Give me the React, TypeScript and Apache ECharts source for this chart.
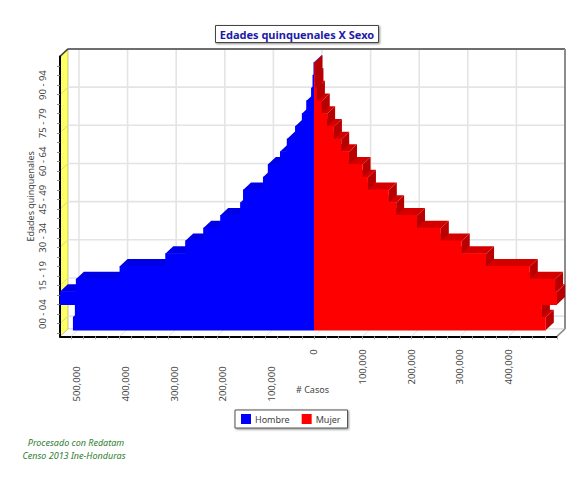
import React, { useEffect, useRef } from "react";
import * as echarts from "echarts";

const ageGroups = [
  "00 - 04", "05 - 09", "10 - 14", "15 - 19", "20 - 24", "25 - 29", "30 - 34",
  "35 - 39", "40 - 44", "45 - 49", "50 - 54", "55 - 59", "60 - 64", "65 - 69",
  "70 - 74", "75 - 79", "80 - 84", "85 - 89", "90 - 94", "95 - 99", "100+",
];
const hombre = [
  496000, 492000, 523000, 490000, 400000, 306000, 265000, 228000, 193000, 152000,
  146000, 105000, 95000, 70000, 56000, 39000, 25000, 16000, 6000, 3000, 1000,
];
const mujer = [
  477000, 469000, 500000, 496000, 444000, 354000, 304000, 261000, 212000, 169000,
  154000, 111000, 100000, 72000, 56000, 41000, 27000, 16000, 6000, 3000, 1000,
];
const caseTicks = [-500000, -400000, -300000, -200000, -100000, 0, 100000, 200000, 300000, 400000];
const negativeTicks = caseTicks.filter((v) => v < 0);
const positiveTicks = caseTicks.filter((v) => v >= 0);
const labelledAges = [0, 3, 6, 9, 12, 15, 18];

const xMin = -522600;
const xMax = 500000;
const yMin = -1;
const yMax = 21;
const depthX = 8;
const depthY = -7.5;
const fontUi = "'Noto Sans', sans-serif";
const textGrey = "#444444";

const minorX: number[] = [];
for (let v = -500000; v <= 500000; v += 25000) minorX.push(v);
const minorY: number[] = [];
for (let v = -0.75; v <= 20.5; v += 0.75) minorY.push(v);

const formatCases = (v: number) => Math.abs(v).toLocaleString("en-US");

// Back wall, floor and yellow side wall of the pseudo-3D box, with their grid lines.
function renderWalls(_p: any, api: any) {
  const bl = api.coord([xMin, yMin]);
  const tr = api.coord([xMax, yMax]);
  const L = bl[0], B = bl[1], R = tr[0], T = tr[1];
  const grid = { stroke: "#e4e4e4", lineWidth: 1.6 };
  const children: any[] = [];
  const poly = (pts: number[][], style: any) =>
    children.push({ type: "polygon", silent: true, shape: { points: pts }, style });
  const line = (a: number[], b: number[], style: any) =>
    children.push({
      type: "line",
      silent: true,
      shape: { x1: a[0], y1: a[1], x2: b[0], y2: b[1] },
      style,
    });

  poly([[L + depthX, T + depthY], [R + depthX, T + depthY], [R + depthX, B + depthY], [L + depthX, B + depthY]], { fill: "#ffffff" });
  poly([[L, T], [L + depthX, T + depthY], [L + depthX, B + depthY], [L, B]], { fill: "#ffff66", stroke: "#8a8a50", lineWidth: 0.5 });

  caseTicks.forEach((v) => {
    const x = api.coord([v, 0])[0];
    line([x + depthX, T + depthY], [x + depthX, B + depthY], grid);
    line([x, B], [x + depthX, B + depthY], { stroke: "#e2e2e2", lineWidth: 1 });
  });
  labelledAges.forEach((i) => {
    const y = api.coord([0, i])[1];
    line([L + depthX, y + depthY], [R + depthX, y + depthY], grid);
    line([L, y], [L + depthX, y + depthY], { stroke: "#d9d98a", lineWidth: 1 });
  });

  line([L + depthX, T + depthY], [R + depthX, T + depthY], { stroke: "#6e6e6e", lineWidth: 2 });
  line([R + depthX, T + depthY], [R + depthX, B + depthY], { stroke: "#8c8c8c", lineWidth: 2 });
  line([L + depthX, B + depthY], [R + depthX, B + depthY], { stroke: "#d0d0d0", lineWidth: 1 });
  line([R, B], [R + depthX, B + depthY], { stroke: "#8c8c8c", lineWidth: 1.5 });
  line([L, T], [L + depthX, T + depthY], { stroke: "#444444", lineWidth: 1.5 });
  return { type: "group", children };
}

// One extruded bar: top and side faces first, the front face on top of them.
function barRenderer(front: string, top: string, side: string) {
  return (_p: any, api: any) => {
    const value = api.value(0);
    const idx = api.value(1);
    const a = api.coord([0, idx - 0.5]);
    const b = api.coord([value, idx + 0.5]);
    const x0 = Math.min(a[0], b[0]);
    const x1 = Math.max(a[0], b[0]);
    const yB = a[1];
    const yT = b[1];
    return {
      type: "group",
      children: [
        {
          type: "polygon",
          shape: { points: [[x0, yT], [x1, yT], [x1 + depthX, yT + depthY], [x0 + depthX, yT + depthY]] },
          style: { fill: top },
        },
        {
          type: "polygon",
          shape: { points: [[x1, yT], [x1 + depthX, yT + depthY], [x1 + depthX, yB + depthY], [x1, yB]] },
          style: { fill: side },
        },
        {
          type: "rect",
          shape: { x: x0, y: yT - 0.5, width: x1 - x0, height: yB - yT + 1 },
          style: { fill: front },
        },
      ],
    };
  };
}

const toPoints = (values: number[], sign: number) => values.map((v, i) => [sign * v, i]);

export default function App() {
  const ref = useRef<HTMLDivElement>(null);

  useEffect(() => {
    document.body.style.margin = "0";
    const chart = echarts.init(ref.current!, undefined, { renderer: "svg" });
    const hiddenAxis = {
      axisLine: { show: false, onZero: false },
      axisTick: { show: false },
      axisLabel: { show: false },
      splitLine: { show: false },
    };
    const bounds = (i: number) => ({ xAxisIndex: i, yAxisIndex: i });

    chart.setOption({
      animation: false,
      backgroundColor: "#ffffff",
      grid: [
        { left: 60, top: 56.4, width: 497, height: 280 },
        { left: 66, top: 56.4, width: 497, height: 280 },
      ],
      xAxis: [
        {
          type: "value",
          gridIndex: 0,
          min: xMin,
          max: xMax,
          z: 2,
          axisLine: { onZero: false, lineStyle: { color: "#000000", width: 2 } },
          axisTick: { show: true, customValues: minorX, length: 3, lineStyle: { color: "#aaaaaa" } },
          axisLabel: {
            customValues: positiveTicks,
            formatter: formatCases,
            rotate: 90,
            margin: 13,
            fontSize: 9.5,
            fontFamily: fontUi,
            color: textGrey,
          },
          splitLine: { show: false },
          name: "# Casos",
          nameLocation: "middle",
          nameMoveOverlap: false,
          nameGap: 49,
          nameTextStyle: { fontSize: 9, fontFamily: fontUi, color: textGrey, padding: [0, 0, 0, 8] },
        },
        {
          type: "value",
          gridIndex: 1,
          min: xMin,
          max: xMax,
          axisLine: { show: false, onZero: false },
          axisTick: { show: false },
          axisLabel: {
            customValues: negativeTicks,
            formatter: formatCases,
            rotate: 90,
            margin: 30,
            fontSize: 9.5,
            fontFamily: fontUi,
            color: textGrey,
          },
          splitLine: { show: false },
        },
      ],
      yAxis: [
        {
          type: "value",
          gridIndex: 0,
          min: yMin,
          max: yMax,
          z: 2,
          axisLine: { show: true, onZero: false, lineStyle: { color: "#000000", width: 2 } },
          axisTick: { show: true, customValues: minorY, length: 3, lineStyle: { color: "#888888" } },
          axisLabel: {
            customValues: labelledAges,
            formatter: (v: number) => ageGroups[v],
            rotate: 90,
            align: "center",
            verticalAlign: "middle",
            margin: 18,
            padding: [0, 0, 0, 19],
            fontSize: 9.5,
            fontFamily: fontUi,
            color: textGrey,
          },
          splitLine: { show: false },
          name: "Edades quinquenales",
          nameLocation: "middle",
          nameMoveOverlap: false,
          nameGap: 25,
          nameRotate: 90,
          nameTextStyle: { fontSize: 9, fontFamily: fontUi, color: textGrey },
        },
        { type: "value", gridIndex: 1, min: yMin, max: yMax, ...hiddenAxis },
      ],
      legend: {
        left: 235,
        top: 410,
        width: 124,
        data: ["Hombre", "Mujer"],
        icon: "rect",
        itemWidth: 10,
        itemHeight: 10,
        itemGap: 12,
        padding: [4, 7, 4, 6],
        backgroundColor: "#ffffff",
        borderColor: "#555555",
        borderWidth: 1,
        shadowColor: "rgba(0,0,0,0.45)",
        shadowBlur: 2,
        shadowOffsetX: 1,
        shadowOffsetY: 1,
        textStyle: { fontSize: 9, fontFamily: fontUi, color: textGrey, padding: [0, 0, 0, -1] },
      },
      series: [
        {
          type: "custom",
          name: "walls",
          ...bounds(0),
          z: 1,
          silent: true,
          data: [[0, 0]],
          renderItem: renderWalls,
          clip: false,
        },
        {
          type: "custom",
          name: "Hombre",
          ...bounds(0),
          z: 3,
          itemStyle: { color: "#0000ff" },
          encode: { x: 0, y: 1 },
          data: toPoints(hombre, -1),
          renderItem: barRenderer("#0000ff", "#0000e6", "#0000e6"),
          clip: false,
        },
        {
          type: "custom",
          name: "Mujer",
          ...bounds(0),
          z: 4,
          itemStyle: { color: "#ff0000" },
          encode: { x: 0, y: 1 },
          data: toPoints(mujer, 1),
          renderItem: barRenderer("#ff0000", "#d40000", "#b80000"),
          clip: false,
        },
      ],
      graphic: [
        {
          type: "rect",
          z: 10,
          shape: { x: 215.5, y: 25.5, width: 163, height: 17 },
          style: {
            fill: "#ffffff",
            stroke: "#444444",
            lineWidth: 1,
            shadowColor: "rgba(0,0,0,0.45)",
            shadowBlur: 2,
            shadowOffsetX: 1,
            shadowOffsetY: 1,
          },
        },
        {
          type: "text",
          z: 11,
          x: 297,
          y: 34,
          style: {
            text: "Edades quinquenales X Sexo",
            fill: "#1c1ca8",
            font: "bold 11px 'Noto Sans', sans-serif",
            textAlign: "center",
            textVerticalAlign: "middle",
          },
        },
        {
          type: "text",
          x: 76,
          y: 442,
          style: {
            text: "Procesado con Redatam",
            fill: "#2e7d2e",
            font: "italic 9px 'Noto Sans', sans-serif",
            textAlign: "center",
            textVerticalAlign: "middle",
          },
        },
        {
          type: "text",
          x: 74,
          y: 455,
          style: {
            text: "Censo 2013 Ine-Honduras",
            fill: "#2e7d2e",
            font: "italic 9px 'Noto Sans', sans-serif",
            textAlign: "center",
            textVerticalAlign: "middle",
          },
        },
      ],
    });
    return () => chart.dispose();
  }, []);

  return <div ref={ref} style={{ width: 568, height: 478, position: "absolute", left: 0, top: 0 }} />;
}
